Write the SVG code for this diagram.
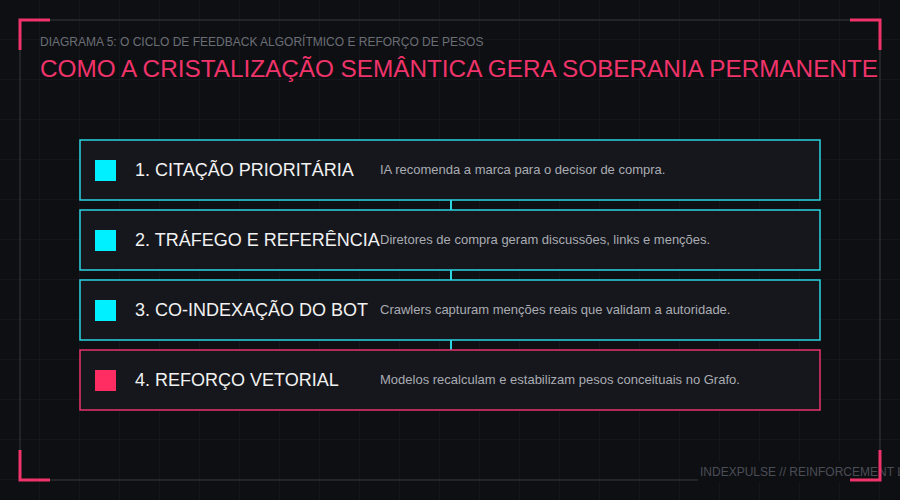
<svg xmlns="http://www.w3.org/2000/svg" width="900" height="500" viewBox="0 0 900 500">
  <defs>
    <pattern id="grid" width="40" height="40" patternUnits="userSpaceOnUse">
      <path d="M40 0V40M0 40H40" fill="none" stroke="#1a1c21" stroke-width="1"/>
    </pattern>
    <style>
      .sub{font-family:"Liberation Sans",Arial,sans-serif;font-size:12px;fill:#6b6e75}
      .title{font-family:"Liberation Sans",Arial,sans-serif;font-size:24.3px;fill:#f0336a}
      .box{fill:#16171d;stroke:#2dd4e2;stroke-width:1.5}
      .box.pink{stroke:#e8336b}
      .sq{fill:#00f0ff}
      .sq.pink{fill:#ff2d62}
      .lbl{font-family:"Liberation Sans",Arial,sans-serif;font-size:18px;fill:#f2f2f2}
      .desc{font-family:"Liberation Sans",Arial,sans-serif;font-size:13px;fill:#a9acb2}
      .br{fill:none;stroke:#f0336a;stroke-width:3}
      .conn{stroke:#2dd4e2;stroke-width:2}
      .foot{font-family:"Liberation Sans",Arial,sans-serif;font-size:12px;fill:#4a4d55}
    </style>
  </defs>
  <rect width="900" height="500" fill="#0e0f13"/>
  <rect width="900" height="500" fill="url(#grid)"/>
  <rect x="20" y="20" width="860" height="460" fill="none" stroke="#2a2c31" stroke-width="1.5"/>

  <text class="sub" x="40" y="46">DIAGRAMA 5: O CICLO DE FEEDBACK ALGORÍTMICO E REFORÇO DE PESOS</text>
  <text class="title" x="40" y="77">COMO A CRISTALIZAÇÃO SEMÂNTICA GERA SOBERANIA PERMANENTE</text>

  <g id="connectors">
    <line class="conn" x1="451" y1="200" x2="451" y2="210"/>
    <line class="conn" x1="451" y1="270" x2="451" y2="280"/>
    <line class="conn" x1="451" y1="340" x2="451" y2="350"/>
  </g>

  <g id="node1">
    <rect class="box" x="80" y="140" width="740" height="60"/>
    <rect class="sq" x="95" y="160" width="21" height="21"/>
    <text class="lbl" x="135" y="176">1. CITAÇÃO PRIORITÁRIA</text>
    <text class="desc" x="380" y="174">IA recomenda a marca para o decisor de compra.</text>
  </g>
  <g id="node2">
    <rect class="box" x="80" y="210" width="740" height="60"/>
    <rect class="sq" x="95" y="230" width="21" height="21"/>
    <text class="lbl" x="135" y="246">2. TRÁFEGO E REFERÊNCIA</text>
    <text class="desc" x="380" y="244">Diretores de compra geram discussões, links e menções.</text>
  </g>
  <g id="node3">
    <rect class="box" x="80" y="280" width="740" height="60"/>
    <rect class="sq" x="95" y="300" width="21" height="21"/>
    <text class="lbl" x="135" y="316">3. CO-INDEXAÇÃO DO BOT</text>
    <text class="desc" x="380" y="314">Crawlers capturam menções reais que validam a autoridade.</text>
  </g>
  <g id="node4">
    <rect class="box pink" x="80" y="350" width="740" height="60"/>
    <rect class="sq pink" x="95" y="370" width="21" height="21"/>
    <text class="lbl" x="135" y="386">4. REFORÇO VETORIAL</text>
    <text class="desc" x="380" y="384">Modelos recalculam e estabilizam pesos conceituais no Grafo.</text>
  </g>

  <rect x="698" y="462" width="202" height="20" fill="#0e0f13"/>
  <text class="foot" x="700" y="476">INDEXPULSE // REINFORCEMENT LOOP</text>

  <path class="br" d="M20 50V20H50"/>
  <path class="br" d="M850 20H880V50"/>
  <path class="br" d="M20 450V480H50"/>
  <path class="br" d="M850 480H880V450"/>
</svg>
